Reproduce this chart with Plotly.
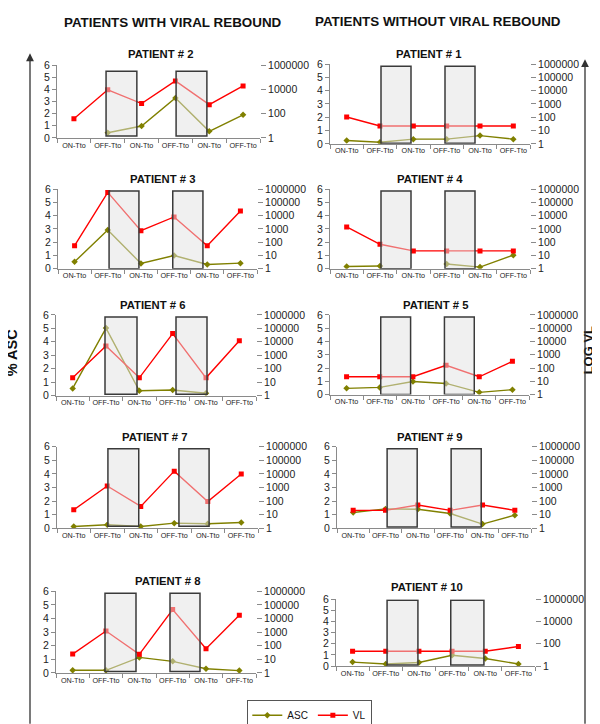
import plotly.graph_objects as go

# ---------------- data ----------------
categories = ["ON-Tto", "OFF-Tto", "ON-Tto", "OFF-Tto", "ON-Tto", "OFF-Tto"]

patients = ["PATIENT # 2", "PATIENT # 1", "PATIENT # 3", "PATIENT # 4", "PATIENT # 6",
            "PATIENT # 5", "PATIENT # 7", "PATIENT # 9", "PATIENT # 8", "PATIENT # 10"]

asc_p2 = [None, 0.43, 0.98, 3.29, 0.54, 1.90]
vl_p2 = [38, 9300, 680, 50000, 550, 19500]

asc_p1 = [0.25, 0.12, 0.35, 0.35, 0.62, 0.35]
vl_p1 = [105, 22, 22, 22, 22, 22]

asc_p3 = [0.52, 2.91, 0.40, 0.99, 0.32, 0.42]
vl_p3 = [54, 560000, 720, 7900, 54, 22000]

asc_p4 = [0.17, 0.20, None, 0.35, 0.12, 1.02]
vl_p4 = [1400, 69, 22, 22, 22, 22]

asc_p6 = [0.53, 5.02, 0.36, 0.41, 0.17, None]
vl_p6 = [21, 4900, 21, 41000, 21, 12000]

asc_p5 = [0.47, 0.54, 0.98, 0.84, 0.17, 0.37]
vl_p5 = [22, 22, 22, 160, 22, 320]

asc_p7 = [0.14, 0.26, 0.14, 0.38, 0.34, 0.43]
vl_p7 = [23, 1300, 41, 16000, 93, 10000]

asc_p9 = [1.16, 1.43, 1.40, 1.09, 0.31, 0.97]
vl_p9 = [21, 21, 52, 21, 52, 21]

asc_p8 = [0.19, 0.19, 1.14, 0.85, 0.31, 0.17]
vl_p8 = [24, 1200, 23, 45000, 59, 17000]

asc_p10 = [0.35, 0.18, 0.32, 0.96, 0.67, 0.18]
vl_p10 = [21, 21, 21, 21, 21, 56]

asc_series = [asc_p2, asc_p1, asc_p3, asc_p4, asc_p6, asc_p5, asc_p7, asc_p9, asc_p8, asc_p10]
vl_series = [vl_p2, vl_p1, vl_p3, vl_p4, vl_p6, vl_p5, vl_p7, vl_p9, vl_p8, vl_p10]

left_ticks = [0, 1, 2, 3, 4, 5, 6]
vl_ticks_all = [1, 10, 100, 1000, 10000, 100000, 1000000]
vl_ticks_sparse = [1, 100, 10000, 1000000]

# ---------------- layout / styling ----------------
W, H = 600, 724
FONT = "Liberation Sans, Arial, sans-serif"
ASC_COLOR = "#808000"
VL_COLOR = "#FF0000"
AXIS_COLOR = "#8a8a8a"

# pixel rectangles of each plot area: left, right, top, bottom
rects = [
    (49, 252, 52, 126), (322, 522, 51, 132),
    (50, 249, 178, 259), (322, 522, 178, 259),
    (48, 248, 306, 388), (322, 521, 306, 387),
    (49, 250, 440, 523), (329, 523, 440, 523),
    (48, 248, 587, 670), (328, 527, 595, 663),
]
title_pos = [(153, 41), (421, 41), (155, 168), (422, 168), (145, 296),
             (428, 296), (147, 430), (422, 430), (160, 577), (419, 583)]
# off-treatment shading boxes (category units, ASC units)
boxes = [
    ((0.95, 1.86), (3.02, 3.93), 0.15, 5.5),
    ((1.03, 1.93), (2.95, 3.85), 0.05, 5.85),
    ((1.04, 1.94), (2.96, 3.87), 0.0, 5.85),
    ((1.03, 1.93), (2.95, 3.85), 0.0, 5.85),
    ((0.97, 1.93), (3.10, 4.03), 0.1, 5.85),
    ((1.03, 1.93), (2.95, 3.85), 0.0, 5.85),
    ((1.02, 1.94), (3.14, 4.04), 0.15, 5.85),
    ((1.05, 1.98), (3.03, 3.96), 0.1, 5.85),
    ((0.97, 1.90), (2.92, 3.82), 0.1, 5.85),
    ((1.04, 1.97), (2.96, 3.96), 0.1, 5.9),
]
sparse_panels = {0, 9}

x_idx = list(range(len(categories)))

fig = go.Figure()
layout = dict(
    width=W, height=H, margin=dict(l=0, r=0, t=0, b=0),
    paper_bgcolor="white", plot_bgcolor="white",
    font=dict(family=FONT, color="#222"),
    showlegend=True,
    legend=dict(orientation="h", x=0.503, y=0.015, xanchor="center", yanchor="middle",
                bordercolor="#555", borderwidth=1, bgcolor="white",
                font=dict(size=10, family=FONT, color="#111"),
                itemwidth=30, tracegroupgap=0),
)
shapes = []
annotations = []

for i in range(10):
    xn = "" if i == 0 else str(i + 1)
    yl = "" if i == 0 else str(i + 1)
    yr = str(i + 11)
    l, r, t, b = rects[i]
    xdom = [l / W, r / W]
    ydom = [1 - b / H, 1 - t / H]

    fig.add_trace(go.Scatter(
        x=x_idx, y=asc_series[i], mode="lines+markers", name="ASC",
        line=dict(color=ASC_COLOR, width=1.4),
        marker=dict(symbol="diamond", size=5, color=ASC_COLOR),
        connectgaps=False, showlegend=(i == 0), legendgroup="asc",
        xaxis="x" + xn, yaxis="y" + yl, hoverinfo="skip"))
    fig.add_trace(go.Scatter(
        x=x_idx, y=vl_series[i], mode="lines+markers", name="VL",
        line=dict(color=VL_COLOR, width=1.4),
        marker=dict(symbol="square", size=5, color=VL_COLOR),
        showlegend=(i == 0), legendgroup="vl",
        xaxis="x" + xn, yaxis="y" + yr, hoverinfo="skip"))

    layout["xaxis" + xn] = dict(
        domain=xdom, anchor="y" + yl, range=[-0.5, len(categories) - 0.5],
        tickmode="array", tickvals=x_idx, ticktext=categories, ticks="",
        tickfont=dict(size=7.2, family=FONT, color="#222"),
        showline=True, linecolor=AXIS_COLOR, linewidth=1,
        showgrid=False, zeroline=False, fixedrange=True,
        minor=dict(tickmode="array", tickvals=[k - 0.5 for k in range(len(categories) + 1)],
                   ticks="outside", ticklen=4, tickcolor=AXIS_COLOR, tickwidth=1, showgrid=False),
    )
    layout["yaxis" + yl] = dict(
        domain=ydom, anchor="x" + xn, range=[0, 6],
        tickmode="array", tickvals=left_ticks, ticktext=[str(v) for v in left_ticks],
        ticks="outside", ticklen=4, tickcolor=AXIS_COLOR,
        tickfont=dict(size=10.5, family=FONT, color="#222"),
        showline=True, linecolor=AXIS_COLOR, linewidth=1,
        showgrid=False, zeroline=False, fixedrange=True,
    )
    vt = vl_ticks_sparse if i in sparse_panels else vl_ticks_all
    layout["yaxis" + yr] = dict(
        overlaying="y" + yl, anchor="x" + xn, side="right", type="log", range=[0, 6],
        tickmode="array", tickvals=vt, ticktext=[str(v) for v in vt],
        ticks="outside", ticklen=5, tickcolor=AXIS_COLOR,
        tickfont=dict(size=10.5, family=FONT, color="#222"),
        showline=False, showgrid=False, zeroline=False, fixedrange=True,
    )

    (a0, a1), (b0, b1), by0, by1 = boxes[i]
    for (x0, x1) in [(a0, a1), (b0, b1)]:
        shapes.append(dict(type="rect", xref="x" + xn, yref="y" + yl,
                           x0=x0, x1=x1, y0=by0, y1=by1, layer="above",
                           fillcolor="rgba(225,225,225,0.5)",
                           line=dict(color="#3a3a3a", width=1.5)))

    tx, ty = title_pos[i]
    annotations.append(dict(text="<b>%s</b>" % patients[i], xref="paper", yref="paper",
                            x=tx / W, y=1 - ty / H, showarrow=False,
                            xanchor="center", yanchor="middle",
                            font=dict(size=11.3, family=FONT, color="#111")))

# column headers
annotations.append(dict(text="<b>PATIENTS WITH VIRAL REBOUND</b>", xref="paper", yref="paper",
                        x=165 / W, y=1 - 9 / H, showarrow=False, xanchor="center", yanchor="middle",
                        font=dict(size=13.4, family=FONT, color="#111")))
annotations.append(dict(text="<b>PATIENTS WITHOUT VIRAL REBOUND</b>", xref="paper", yref="paper",
                        x=430 / W, y=1 - 8 / H, showarrow=False, xanchor="center", yanchor="middle",
                        font=dict(size=13.4, family=FONT, color="#111")))
# side axis titles
annotations.append(dict(text="<b>% ASC</b>", xref="paper", yref="paper",
                        x=4 / W, y=1 - 344 / H, showarrow=False, textangle=-90,
                        xanchor="center", yanchor="middle",
                        font=dict(size=14.5, family=FONT, color="#111")))
annotations.append(dict(text="<b>LOG VL</b>", xref="paper", yref="paper",
                        x=580 / W, y=1 - 342 / H, showarrow=False, textangle=-90,
                        xanchor="center", yanchor="middle",
                        font=dict(size=13, family=FONT, color="#111")))
# big vertical arrows
annotations.append(dict(text="", xref="paper", yref="paper", x=22 / W, y=1 - 40 / H,
                        ax=0, ay=672, showarrow=True, arrowhead=2, arrowsize=1.2,
                        arrowwidth=1.3, arrowcolor="#333"))
annotations.append(dict(text="", xref="paper", yref="paper", x=577 / W, y=1 - 46 / H,
                        ax=0, ay=666, showarrow=True, arrowhead=2, arrowsize=1.2,
                        arrowwidth=1.3, arrowcolor="#333"))

layout["shapes"] = shapes
layout["annotations"] = annotations
fig.update_layout(**layout)

fig.write_html("out.html")
